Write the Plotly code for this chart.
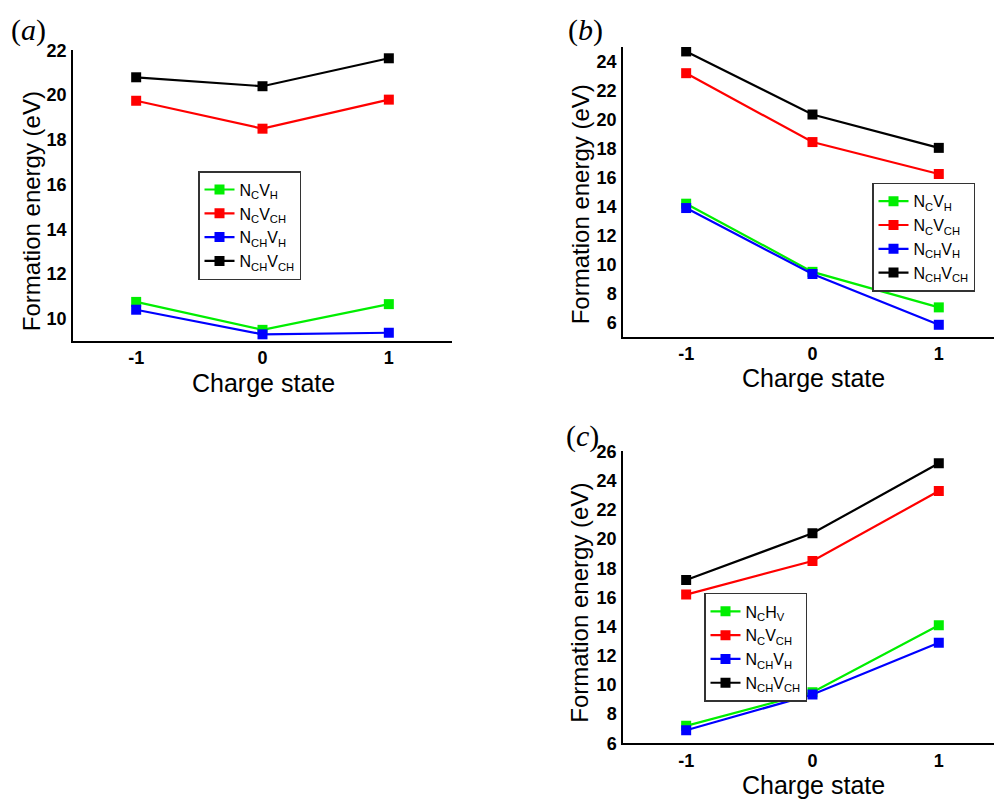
import plotly.graph_objects as go

charge = [-1, 0, 1]
names_ab = ["N<sub>C</sub>V<sub>H</sub>", "N<sub>C</sub>V<sub>CH</sub>",
            "N<sub>CH</sub>V<sub>H</sub>", "N<sub>CH</sub>V<sub>CH</sub>"]
names_c = ["N<sub>C</sub>H<sub>V</sub>", "N<sub>C</sub>V<sub>CH</sub>",
           "N<sub>CH</sub>V<sub>H</sub>", "N<sub>CH</sub>V<sub>CH</sub>"]
colors = ["#00ee00", "#ff0000", "#0000ff", "#000000"]

# panel (a)
a_NcVh = [10.75, 9.5, 10.65]
a_NcVch = [19.75, 18.5, 19.8]
a_NchVh = [10.4, 9.3, 9.37]
a_NchVch = [20.8, 20.4, 21.65]
# panel (b)
b_NcVh = [14.2, 9.5, 7.05]
b_NcVch = [23.2, 18.45, 16.25]
b_NchVh = [13.9, 9.35, 5.85]
b_NchVch = [24.7, 20.35, 18.05]
# panel (c)
c_NcHv = [7.2, 9.5, 14.1]
c_NcVch = [16.2, 18.5, 23.3]
c_NchVh = [6.9, 9.35, 12.9]
c_NchVch = [17.2, 20.4, 25.2]

W, H = 994, 809
fig = go.Figure()

panels = [
    ("x", "y", "legend", names_ab, [a_NcVh, a_NcVch, a_NchVh, a_NchVch]),
    ("x2", "y2", "legend2", names_ab, [b_NcVh, b_NcVch, b_NchVh, b_NchVch]),
    ("x3", "y3", "legend3", names_c, [c_NcHv, c_NcVch, c_NchVh, c_NchVch]),
]
for xa, ya, lg, names, series in panels:
    for nm, col, vals in zip(names, colors, series):
        fig.add_trace(go.Scatter(
            x=charge, y=vals, name=nm, mode="lines+markers",
            line=dict(color=col, width=2.2),
            marker=dict(symbol="square", size=10, color=col),
            xaxis=xa, yaxis=ya, legend=lg))

def px_x(p):
    return p / W

def px_y(p):
    return 1 - p / H

tickfont = dict(family="Liberation Sans", size=18, color="black", weight="bold")

def xaxis(d0, d1, rng, anchor):
    return dict(domain=[px_x(d0), px_x(d1)], range=rng, anchor=anchor,
                tickvals=[-1, 0, 1], ticktext=["-1", "0", "1"],
                tickfont=tickfont, showgrid=False, zeroline=False,
                showline=True, linecolor="black", linewidth=1.5, ticks="")

def yaxis(d0, d1, rng, vals, anchor):
    return dict(domain=[px_y(d1), px_y(d0)], range=rng, anchor=anchor,
                tickvals=vals, ticktext=[str(v) for v in vals],
                tickfont=tickfont, showgrid=False, zeroline=False,
                showline=True, linecolor="black", linewidth=1.5, ticks="",
                ticklabelstandoff=1)

fig.update_layout(
    width=W, height=H, margin=dict(l=0, r=0, t=0, b=0),
    plot_bgcolor="white", paper_bgcolor="white",
    xaxis=xaxis(73, 452, [-1.5, 1.5], "y"),
    yaxis=yaxis(42, 340, [9, 22.02], list(range(10, 23, 2)), "x"),
    xaxis2=xaxis(623, 994, [-1.5, 1.437], "y2"),
    yaxis2=yaxis(39, 336, [5, 25], list(range(6, 25, 2)), "x2"),
    xaxis3=xaxis(623, 994, [-1.5, 1.437], "y3"),
    yaxis3=yaxis(453, 752, [6, 26.02], list(range(6, 27, 2)), "x3"),
)

legfont = dict(family="Liberation Sans", size=16, color="black")
def legend(x0, y0):
    return dict(x=px_x(x0), y=px_y(y0), xanchor="left", yanchor="top",
                bordercolor="#333333", borderwidth=1.5, bgcolor="white",
                font=legfont, tracegroupgap=0, itemwidth=30)

fig.update_layout(legend=legend(198, 166), legend2=legend(872, 178),
                  legend3=legend(704, 598))

ann = []
titlefont = dict(family="Liberation Sans", size=24, color="black")
for cx, cy in [(31, 207), (580, 200), (580, 608)]:
    ann.append(dict(text="Formation energy (eV)", x=px_x(cx), y=px_y(cy),
                    xref="paper", yref="paper", showarrow=False, textangle=-90,
                    font=titlefont, xanchor="center", yanchor="middle"))
for cx, cy in [(263, 383), (813, 378), (813, 795)]:
    ann.append(dict(text="Charge state", x=px_x(cx), y=px_y(cy),
                    xref="paper", yref="paper", showarrow=False,
                    font=dict(family="Liberation Sans", size=25, color="black"),
                    xanchor="center", yanchor="middle"))
labfont = dict(family="Liberation Serif", size=30, color="black")
for t, cx, cy in [("(<i>a</i>)", 28, 22), ("(<i>b</i>)", 585, 22), ("(<i>c</i>)", 582, 437)]:
    ann.append(dict(text=t, x=px_x(cx), y=px_y(cy), xref="paper", yref="paper",
                    showarrow=False, font=labfont, xanchor="center", yanchor="middle"))
fig.update_layout(annotations=ann)

fig.write_html("out.html")
